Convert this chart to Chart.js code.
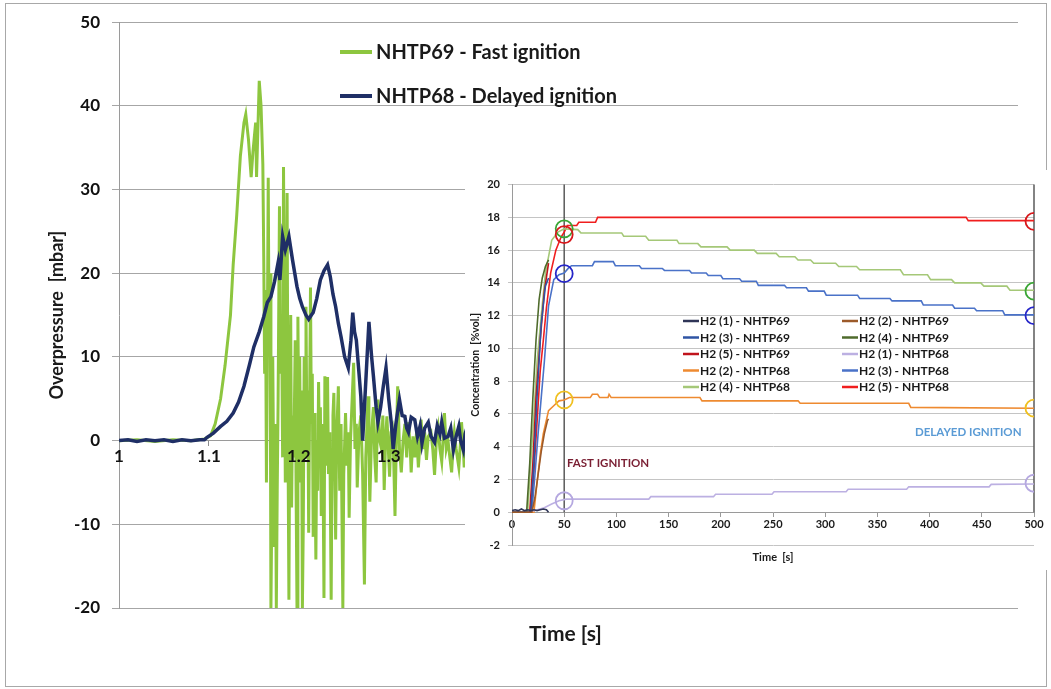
<!DOCTYPE html>
<html>
<head>
<meta charset="utf-8">
<script src="https://cdn.jsdelivr.net/npm/chart.js@4.4.0/dist/chart.umd.min.js"></script>
<style>
  body { margin: 0; background: #fff; }
  #frame { position: absolute; left: 5px; top: 3px; width: 1040px; height: 682px; border: 1px solid #a8a8a8; }
  #main_chart { position: absolute; left: 0; top: 0; }
  #inset_chart { position: absolute; left: 465px; top: 170px; background: #fff; }
</style>
</head>
<body>
<div id="frame"></div>
<canvas id="main_chart" width="1051" height="689"></canvas>
<canvas id="inset_chart" width="586" height="400"></canvas>
<script>
"use strict";

// ---- main chart: overpressure ----
const mainYTicks = [-20, -10, 0, 10, 20, 30, 40, 50];
const mainXTitle = "Time [s]";
const mainYTitle = "Overpressure  [mbar]";

const time69 = [
  1.000, 1.020, 1.040, 1.060, 1.080, 1.095, 1.102, 1.107, 1.113, 1.118,
  1.124, 1.127, 1.131, 1.135, 1.139, 1.141, 1.144, 1.147, 1.149, 1.152,
  1.153, 1.156, 1.158,
  1.1600, 1.1610, 1.1620, 1.1630, 1.1640, 1.1650, 1.1660, 1.1670, 1.1680, 1.1690,
  1.1700, 1.1710, 1.1720, 1.1730, 1.1740, 1.1750, 1.1760, 1.1770, 1.1785, 1.1795,
  1.1810, 1.1820, 1.1830, 1.1840, 1.1850, 1.1860, 1.1870, 1.1880, 1.1890, 1.1900,
  1.1910, 1.1920, 1.1930, 1.1945, 1.1960, 1.1970, 1.1980, 1.1990, 1.2000, 1.2010,
  1.2020, 1.2030, 1.2040, 1.2050, 1.2060, 1.2070, 1.2080, 1.2090, 1.2100, 1.2110,
  1.2120, 1.2130, 1.2140, 1.2150, 1.2160, 1.2170, 1.2180, 1.2190, 1.2200, 1.2210,
  1.2220, 1.2230, 1.2240, 1.2250, 1.2260, 1.2270, 1.2280, 1.2290, 1.2300, 1.2310,
  1.2320, 1.2330, 1.2345, 1.2360, 1.2370, 1.2380, 1.2390, 1.2400, 1.2410, 1.2420,
  1.2440, 1.2455, 1.2470, 1.2490, 1.2500, 1.2520, 1.2535, 1.2550, 1.2560, 1.2575,
  1.2590, 1.2610, 1.2625, 1.2640, 1.2650, 1.2670, 1.2690, 1.2710, 1.2730, 1.2745,
  1.2770, 1.2780, 1.2790, 1.2810, 1.2830, 1.2845, 1.2860, 1.2880, 1.2900, 1.2920,
  1.2935, 1.2950, 1.2965, 1.2980, 1.3000, 1.3010, 1.3025, 1.3040, 1.3055, 1.3070,
  1.3085, 1.3100, 1.3120, 1.3140, 1.3160, 1.3180, 1.3200, 1.3220, 1.3240, 1.3250,
  1.3270, 1.3290, 1.3310, 1.3330, 1.3350, 1.3360, 1.3380, 1.3400, 1.3420, 1.3440,
  1.3470, 1.3490, 1.3510, 1.3530, 1.3550, 1.3570, 1.3590, 1.3610, 1.3620, 1.3640,
  1.3660, 1.3680, 1.3700, 1.3720, 1.3730, 1.3750, 1.3780, 1.3800, 1.3810, 1.3830,
  1.3840, 1.3860, 1.3870
];
const pressure69 = [
  0, 0.1, -0.1, 0.1, 0, 0.2, 0.6, 2, 5, 9,
  15, 21, 27, 34, 38, 39, 36, 31.5, 34.5, 38,
  31.5, 43, 40,
  33, 22, 8, 18, -5, 12, 31.4, 10, 20, -20,
  -8, 10, -3, -12.7, 2, -20, -6, 5, 28, 8,
  13, -2, 32.7, 15, -5, 10, 29.6, 0, -19, 4,
  15, -8, 3, -2, 12, -6, -20, 14.8, 2, 10,
  -5, 6, -20, -10, 10, -2, 16, 0, 6, -11,
  4, 18.3, 2, 8, -11.5, 3.3, -4, -14.2, 0, -6,
  7, -2, 4, -9, 2, -4, -18.8, 7.7, -3, 2,
  7.6, -4, 1, -19, -2, 3, 5.7, -3, -11.8, 0,
  6.5, -6, 2, -20, -4, 3.3, -3, 1, -9.2, 0,
  4, 9.3, -1, 2, -5.6, 1, 3, -4, -17.2, -2,
  5.3, -1, -7.3, 1, 4, -2, -5, 4.9, 0, -1,
  3, -5.9, 0, 2.9, -2, -4.3, 1, 1.5, -2, -9,
  0, 6.5, -1, -3.8, 0, 2, -2, 2.2, -1, -3.8,
  0.5, -2, 1, -3.2, 0, 2.5, -1, 1, -2.3, 0.5,
  1, -1, -4.1, 0, 1.5, -1, -2.5, 1, 3.3, -1,
  0, -2, -3.8, 0, 1, -1, -3.2, 0, 2.2, -1,
  -3.2, -1, 0.5
];

const time68 = [
  1.000, 1.010, 1.020, 1.030, 1.040, 1.050, 1.060, 1.070, 1.080, 1.090,
  1.095, 1.098, 1.105, 1.113, 1.120, 1.127, 1.133, 1.139, 1.145, 1.150,
  1.156, 1.161, 1.165, 1.169, 1.173, 1.177, 1.179, 1.182, 1.185, 1.189,
  1.193, 1.198, 1.201, 1.204, 1.208, 1.211, 1.214, 1.216, 1.220, 1.224,
  1.228, 1.232, 1.235, 1.238, 1.241, 1.244, 1.247, 1.251, 1.255, 1.258,
  1.260, 1.262, 1.264, 1.267, 1.269, 1.271, 1.274, 1.278, 1.281, 1.283,
  1.286, 1.288, 1.291, 1.294, 1.297, 1.300, 1.303, 1.305, 1.308, 1.310,
  1.312, 1.315, 1.318, 1.320, 1.322, 1.325, 1.329, 1.332, 1.335, 1.337,
  1.340, 1.344, 1.347, 1.351, 1.354, 1.357, 1.359, 1.362, 1.366, 1.369,
  1.372, 1.375, 1.378, 1.380, 1.383, 1.385, 1.387
];
const pressure68 = [
  0, 0.1, -0.1, 0.1, 0, 0.1, -0.1, 0.1, 0, 0.1,
  0.1, 0.4, 0.9, 1.7, 2.3, 3.3, 4.6, 6.5, 9, 11.2,
  13, 14.8, 16.5, 17.2, 19, 21.3, 19.2, 24.4, 22.8, 24.4,
  21.6, 18.4, 17, 16, 15, 14.5, 15, 15.3, 17, 19.2,
  20.3, 21, 19.6, 17.5, 16, 14, 12.4, 10, 8.7, 12,
  15.3, 13, 12, 8, 5.3, 0, 6, 14.2, 10, 7.7,
  4, 2.2, 4, 6.5, 8.7, 5, 2, -1, 2, 3.5,
  4.9, 3, 2.9, 1.5, 1, 2.8, 2.5, 0.5, 1.8, -0.3,
  1.5, 2.2, 0.5, -0.2, 1.8, 0.8, 2.2, 0.3, 0.5, 1.5,
  -1.1, 0.5, 1.7, 0, -1.1, 0.8, 1.5
];

// ---- inset chart: H2 concentration ----
const insetXTitle = "Time  [s]";
const insetYTitle = "Concentration  [%vol.]";

const t_h1_69 = [0, 3, 6, 9, 12, 15, 18, 21, 24, 27, 30, 33, 35];
const c_h1_69 = [0.1, 0.15, 0.1, 0.2, 0.1, 0.15, 0.1, 0.15, 0.1, 0.15, 0.2, 0.15, 0];
const t_h2_69 = [0, 19, 22, 25, 28, 31, 34, 35];
const c_h2_69 = [0, 0, 0.9, 2.3, 3.7, 4.8, 5.6, 5.7];
const t_h3_69 = [0, 18, 21, 24, 28, 32, 35];
const c_h3_69 = [0, 0, 3, 7, 11.5, 13.8, 14.3];
const t_h4_69 = [0, 14, 17, 20, 23, 26, 29, 32, 35];
const c_h4_69 = [0, 0, 3, 7, 10.5, 13, 14.3, 15, 15.4];
const t_h5_69 = [0, 17, 20, 23, 27, 31, 35];
const c_h5_69 = [0, 0, 3, 7, 10.5, 13.5, 15.2];

const t_h1_68 = [0, 16, 22, 30, 38, 45, 52, 131, 133, 193, 195, 249, 251, 320, 322, 378, 380, 457, 459, 500];
const c_h1_68 = [0, 0, 0.1, 0.25, 0.5, 0.7, 0.8, 0.8, 0.95, 0.95, 1.1, 1.1, 1.25, 1.25, 1.4, 1.4, 1.55, 1.55, 1.7, 1.72];
const t_h2_68 = [0, 21, 24, 27, 30, 35, 40, 45, 50, 55, 75, 77, 82, 84, 92, 93, 95, 180, 182, 274, 276, 380, 382, 500];
const c_h2_68 = [0, 0, 1.8, 3.5, 4.8, 6.2, 6.5, 6.8, 6.85, 7, 7, 7.2, 7.2, 7, 7, 7.2, 7, 7, 6.8, 6.8, 6.65, 6.65, 6.4, 6.35];
const t_h3_68 = [0, 19, 22, 25, 28, 31, 35, 40, 45, 50, 54, 57, 77, 79, 97, 99, 122, 124, 144, 146, 170, 172, 186, 188, 200, 202, 218, 220, 234, 236, 261, 263, 282, 284, 299, 301, 331, 333, 362, 364, 392, 394, 422, 424, 443, 445, 470, 472, 500];
const c_h3_68 = [0, 0, 2.3, 4.8, 7, 9.2, 12.6, 14.2, 14.5, 14.6, 14.9, 15.05, 15.05, 15.3, 15.3, 15.05, 15.05, 14.88, 14.88, 14.76, 14.76, 14.6, 14.6, 14.45, 14.45, 14.25, 14.25, 14.1, 14.1, 13.85, 13.85, 13.7, 13.7, 13.5, 13.5, 13.25, 13.25, 13.05, 13.05, 12.9, 12.9, 12.65, 12.65, 12.45, 12.45, 12.3, 12.3, 12.05, 12.05];
const t_h4_68 = [0, 15, 18, 21, 24, 28, 32, 38, 44, 50, 63, 66, 105, 107, 128, 131, 158, 160, 178, 181, 206, 209, 232, 235, 253, 256, 271, 274, 286, 289, 310, 313, 330, 333, 372, 375, 398, 401, 421, 424, 449, 452, 474, 477, 500];
const c_h4_68 = [0, 0, 3, 6, 9.2, 12, 14.6, 16.6, 17.1, 17.3, 17.25, 17.05, 17.05, 16.85, 16.85, 16.6, 16.6, 16.4, 16.4, 16.2, 16.2, 16, 16, 15.8, 15.8, 15.6, 15.6, 15.4, 15.4, 15.2, 15.2, 15, 15, 14.8, 14.8, 14.5, 14.5, 14.2, 14.2, 14, 14, 13.8, 13.8, 13.55, 13.55];
const t_h5_68 = [0, 18, 21, 24, 27, 30, 33, 37, 42, 47, 50, 53, 62, 64, 80, 82, 435, 437, 500];
const c_h5_68 = [0, 0, 2.5, 5.5, 8.6, 10.5, 12.5, 14.6, 16, 16.8, 17.1, 17.5, 17.5, 17.7, 17.7, 18, 18, 17.8, 17.8];

// circled readings at 50 s and 500 s
const circleTime = [50, 50, 50, 50, 50, 500, 500, 500, 500, 500];
const circleConc = [17.3, 16.95, 14.56, 6.86, 0.7, 17.76, 13.5, 12.0, 6.35, 1.77];
const circleColors = ["#3aa635", "#d7191c", "#2626c8", "#f0c020", "#b5a8e0", "#d7191c", "#3aa635", "#2626c8", "#f0c020", "#b5a8e0"];

const markerTimes = [50, 500];
const fastLabel = { text: "FAST IGNITION", t: 92, c: 3.0, color: "#7a1f33" };
const delayedLabel = { text: "DELAYED IGNITION", t: 437, c: 4.9, color: "#5b9bd5" };

const FONT = "Lato, 'Open Sans', sans-serif";

function pts(xs, ys) {
  return xs.map((x, i) => ({ x: x, y: ys[i] }));
}

const mainDecor = {
  id: "mainDecor",
  afterDraw(chart) {
    const { ctx, chartArea } = chart;
    ctx.save();
    ctx.fillStyle = "#1a1a1a";
    ctx.font = "bold 21px " + FONT;
    ctx.textAlign = "center";
    ctx.textBaseline = "middle";
    ctx.fillText(mainXTitle, (chartArea.left + chartArea.right) / 2 - 3, chartArea.bottom + 26);

    // legend, top of plot
    ctx.font = "bold 20px " + FONT;
    ctx.textAlign = "left";
    chart.data.datasets.forEach((ds, i) => {
      const y = 52 + i * 44;
      ctx.strokeStyle = ds.borderColor;
      ctx.lineWidth = 4;
      ctx.beginPath();
      ctx.moveTo(340, y);
      ctx.lineTo(372, y);
      ctx.stroke();
      ctx.fillText(ds.label, 376, y + 1);
    });
    ctx.restore();
  }
};

const mainChart = new Chart(document.getElementById("main_chart").getContext("2d"), {
  type: "line",
  data: {
    datasets: [
      { label: "NHTP69 - Fast ignition", data: pts(time69, pressure69), borderColor: "#8dc63f", borderWidth: 3, pointRadius: 0, order: 1 },
      { label: "NHTP68 - Delayed ignition", data: pts(time68, pressure68), borderColor: "#1f2f66", borderWidth: 3.5, pointRadius: 0, order: 0 }
    ]
  },
  options: {
    responsive: false,
    animation: false,
    devicePixelRatio: 1,
    layout: { padding: { left: 0, top: 22, right: 33, bottom: 81 } },
    plugins: { legend: { display: false }, tooltip: { enabled: false } },
    scales: {
      x: {
        type: "linear",
        position: { y: 0 },
        min: 1,
        max: 2,
        ticks: {
          z: 1,
          stepSize: 0.1,
          color: "#111",
          font: { family: FONT, size: 17, weight: "bold" },
          padding: 1,
          maxRotation: 0,
          callback: (v) => String(Number(v.toFixed(1)))
        },
        grid: { drawOnChartArea: false, tickLength: 5, color: "#8c8c8c" },
        border: { color: "#9a9a9a" }
      },
      y: {
        min: -20,
        max: 50,
        afterBuildTicks: (s) => { s.ticks = mainYTicks.map((v) => ({ value: v })); },
        ticks: { color: "#111", font: { family: FONT, size: 17, weight: "bold" }, padding: 12 },
        grid: { color: "#a6a6a6", tickLength: 7 },
        border: { color: "#9a9a9a" },
        title: { display: true, text: mainYTitle, color: "#1a1a1a", font: { family: FONT, size: 18, weight: "bold" }, padding: { top: 46, bottom: 0 } },
        afterFit: (s) => { s.width = 119; }
      }
    }
  },
  plugins: [mainDecor]
});

const insetDecor = {
  id: "insetDecor",
  beforeDatasetsDraw(chart) {
    const { ctx, scales } = chart;
    ctx.save();
    ctx.strokeStyle = "#5a5a5a";
    ctx.lineWidth = 1.5;
    markerTimes.forEach((t) => {
      const x = scales.x.getPixelForValue(t);
      ctx.beginPath();
      ctx.moveTo(x, scales.y.getPixelForValue(20));
      ctx.lineTo(x, scales.y.getPixelForValue(0));
      ctx.stroke();
    });
    ctx.restore();
  },
  afterDraw(chart) {
    const { ctx, scales, chartArea } = chart;
    ctx.save();
    ctx.textBaseline = "middle";
    [fastLabel, delayedLabel].forEach((l) => {
      ctx.fillStyle = l.color;
      ctx.font = "bold 11.5px " + FONT;
      ctx.textAlign = "center";
      ctx.fillText(l.text, scales.x.getPixelForValue(l.t), scales.y.getPixelForValue(l.c));
    });

    ctx.fillStyle = "#1a1a1a";
    ctx.font = "bold 11px " + FONT;
    ctx.textAlign = "center";
    ctx.fillText(insetXTitle, (chartArea.left + chartArea.right) / 2, chartArea.bottom + 12);

    // two-column legend
    ctx.font = "bold 12px " + FONT;
    ctx.textAlign = "left";
    chart.data.datasets.filter((ds) => ds.label).forEach((ds, i) => {
      const col = i % 2;
      const row = Math.floor(i / 2);
      const x = 218 + col * 159;
      const y = 151 + row * 16.5;
      ctx.strokeStyle = ds.borderColor;
      ctx.lineWidth = 2.5;
      ctx.beginPath();
      ctx.moveTo(x, y);
      ctx.lineTo(x + 16, y);
      ctx.stroke();
      ctx.fillStyle = "#1a1a1a";
      ctx.fillText(ds.label, x + 17, y + 0.5);
    });
    ctx.restore();
  }
};

function h2(label, xs, ys, color) {
  return { type: "line", label: label, data: pts(xs, ys), borderColor: color, borderWidth: 1.6, pointRadius: 0 };
}

const insetChart = new Chart(document.getElementById("inset_chart").getContext("2d"), {
  type: "line",
  data: {
    datasets: [
      h2("H2 (1) - NHTP69", t_h1_69, c_h1_69, "#2f3557"),
      h2("H2 (2) - NHTP69", t_h2_69, c_h2_69, "#9c5a2a"),
      h2("H2 (3) - NHTP69", t_h3_69, c_h3_69, "#2f55a4"),
      h2("H2 (4) - NHTP69", t_h4_69, c_h4_69, "#4f6b2c"),
      h2("H2 (5) - NHTP69", t_h5_69, c_h5_69, "#c0141c"),
      h2("H2 (1) - NHTP68", t_h1_68, c_h1_68, "#bcb0e2"),
      h2("H2 (2) - NHTP68", t_h2_68, c_h2_68, "#ee8a30"),
      h2("H2 (3) - NHTP68", t_h3_68, c_h3_68, "#4a72c8"),
      h2("H2 (4) - NHTP68", t_h4_68, c_h4_68, "#a5c878"),
      h2("H2 (5) - NHTP68", t_h5_68, c_h5_68, "#f01e1e"),
      {
        type: "scatter",
        data: pts(circleTime, circleConc),
        pointStyle: "circle",
        pointRadius: 8.5,
        pointBorderWidth: 1.8,
        pointBorderColor: circleColors,
        pointBackgroundColor: "rgba(0,0,0,0)",
        order: -1
      }
    ]
  },
  options: {
    responsive: false,
    animation: false,
    devicePixelRatio: 1,
    layout: { padding: { left: 0, top: 7, right: 17, bottom: 25 } },
    plugins: { legend: { display: false }, tooltip: { enabled: false } },
    scales: {
      x: {
        type: "linear",
        position: { y: 0 },
        min: 0,
        max: 500,
        ticks: { stepSize: 50, color: "#1a1a1a", font: { family: FONT, size: 11, weight: "bold" }, padding: 2, maxRotation: 0 },
        grid: { drawOnChartArea: false, tickLength: 4, color: "#9a9a9a" },
        border: { color: "#9a9a9a" }
      },
      y: {
        min: -2,
        max: 20,
        ticks: { stepSize: 2, color: "#1a1a1a", font: { family: FONT, size: 11, weight: "bold" }, padding: 8 },
        grid: { color: "#c4c4c4", tickLength: 4 },
        border: { color: "#9a9a9a" },
        title: { display: true, text: insetYTitle, color: "#1a1a1a", font: { family: FONT, size: 10.5, weight: "bold" }, padding: { top: 4, bottom: 0 } },
        afterFit: (s) => { s.width = 47; }
      }
    }
  },
  plugins: [insetDecor]
});
</script>
</body>
</html>
